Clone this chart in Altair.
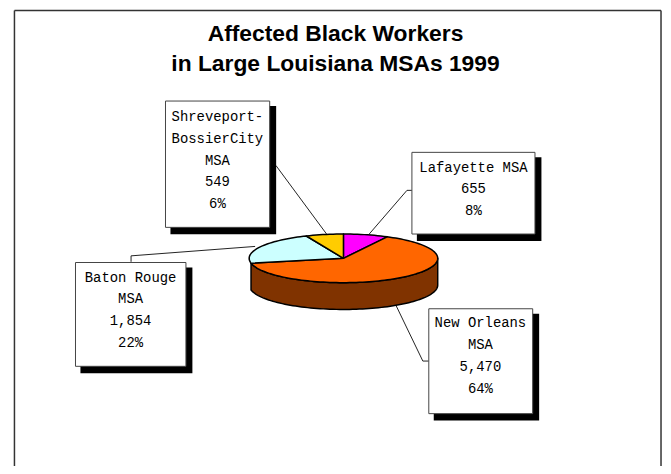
import math
import altair as alt

# --- data ---
names = ["Lafayette", "New Orleans", "Baton Rouge", "Shreveport"]
values = [655, 5470, 1854, 549]
fills = ["#FF00FF", "#FF6600", "#CCFFFF", "#FFCC00"]
side_fill = "#803300"
title_lines = ["Affected Black Workers", "in Large Louisiana MSAs 1999"]
label_heads = [
    ["Lafayette MSA"],
    ["New Orleans", "MSA"],
    ["Baton Rouge", "MSA"],
    ["Shreveport-", "BossierCity", "MSA"],
]

W, H = 660, 458
M = 8  # page margin
total = sum(values)

# pie geometry
cx, cy, rx, ry, depth = 346, 258.5, 95, 24.5, 27


def pt(deg, dy=0.0):
    a = math.radians(deg)
    return [round(rx * math.sin(a), 2), round(-ry * math.cos(a) + dy, 2)]


def arc(a0, a1, dy=0.0):
    n = max(2, int(abs(a1 - a0) / 2))
    return [pt(a0 + (a1 - a0) * i / n, dy) for i in range(n + 1)]


features = []
start = 0.0
spans = []
for name, v in zip(names, values):
    end = start + 360.0 * v / total
    spans.append((name, start, end))
    start = end

ns, ns0, ns1 = spans[1]
side_ring = arc(90, ns1) + arc(ns1, 90, depth)
side_ring.append(side_ring[0])
features.append({"type": "Feature", "properties": {"name": "side"},
                 "geometry": {"type": "Polygon", "coordinates": [side_ring]}})
for name, a0, a1 in spans:
    ring = [[0, 0]] + arc(a0, a1) + [[0, 0]]
    features.append({"type": "Feature", "properties": {"name": name},
                     "geometry": {"type": "Polygon", "coordinates": [ring]}})

pie = (
    alt.Chart(alt.InlineData(values={"type": "FeatureCollection", "features": features},
                             format=alt.DataFormat(property="features", type="json")))
    .mark_geoshape(stroke="black", strokeWidth=1.5, strokeJoin="round")
    .encode(color=alt.Color("properties.name:N",
                            scale=alt.Scale(domain=["side"] + names, range=[side_fill] + fills),
                            legend=None))
    .project(type="identity", scale=1, translate=[cx - M, cy - M])
)

blank = alt.Data(values=[{}])


def seg(x0, y0, x1, y1, color="black", width=1.0):
    return alt.Chart(blank).mark_rule(color=color, strokeWidth=width).encode(
        x=alt.value(x0 - M), x2=alt.value(x1 - M), y=alt.value(y0 - M), y2=alt.value(y1 - M))


def rect(x0, y0, x1, y1, **kw):
    return alt.Chart(blank).mark_rect(**kw).encode(
        x=alt.value(x0 - M), x2=alt.value(x1 - M), y=alt.value(y0 - M), y2=alt.value(y1 - M))


def text(lines, x, y, **kw):
    return alt.Chart(blank).mark_text(text=lines, align="center", baseline="top", **kw).encode(
        x=alt.value(x - M), y=alt.value(y - M))


layers = []
# frame (top edge as high as the page margin permits)
layers += [seg(14.5, 8.75, 14.5, 480, "#333333", 1.5),
           seg(14.5, 8.75, 666, 8.75, "#333333", 1.5),
           seg(666, 8.75, 666, 480, "#333333", 1.5)]

# title
layers.append(text(title_lines[0], 338, 22, font="Liberation Sans", fontWeight="bold", fontSize=23, color="black"))
layers.append(text(title_lines[1], 338, 52, font="Liberation Sans", fontWeight="bold", fontSize=23, color="black"))

# leader lines
leaders = [
    (278, 165, 329, 234),
    (415, 190, 410, 190), (410, 190, 372, 234),
    (132, 262, 132, 256), (132, 256, 257, 246.5),
    (399, 306, 426, 362), (426, 362, 432, 362),
]
for s in leaders:
    layers.append(seg(*s, color="#222222"))

layers.append(pie)

# callout boxes: left, top, right, bottom, text x, text y
boxes = {
    "Shreveport": (166.7, 100, 271.7, 227.3, 219, 109),
    "Baton Rouge": (76, 262.7, 187.3, 367.3, 131.5, 271),
    "Lafayette": (415, 151.7, 539, 234, 477, 160),
    "New Orleans": (432, 309.3, 536.7, 415, 484, 317),
}
for name, head, v in zip(names, label_heads, values):
    x0, y0, x1, y1, tx, ty = boxes[name]
    layers.append(rect(x0 + 5, y0 + 5, x1 + 6.5, y1 + 7, color="black"))
    layers.append(rect(x0, y0, x1, y1, fill="white", stroke="#444444", strokeWidth=1))
    lines = head + [f"{v:,}", f"{round(100 * v / total)}%"]
    layers.append(text(lines, tx, ty, font="Liberation Mono", fontSize=14, lineHeight=22, color="black"))

chart = alt.layer(*layers).properties(
    width=W, height=H, padding=0, autosize=alt.AutoSizeParams(type="none"),
    background="white"
).configure_view(stroke=None)

chart.save("out.html", embed_options={"renderer": "svg", "actions": False})
